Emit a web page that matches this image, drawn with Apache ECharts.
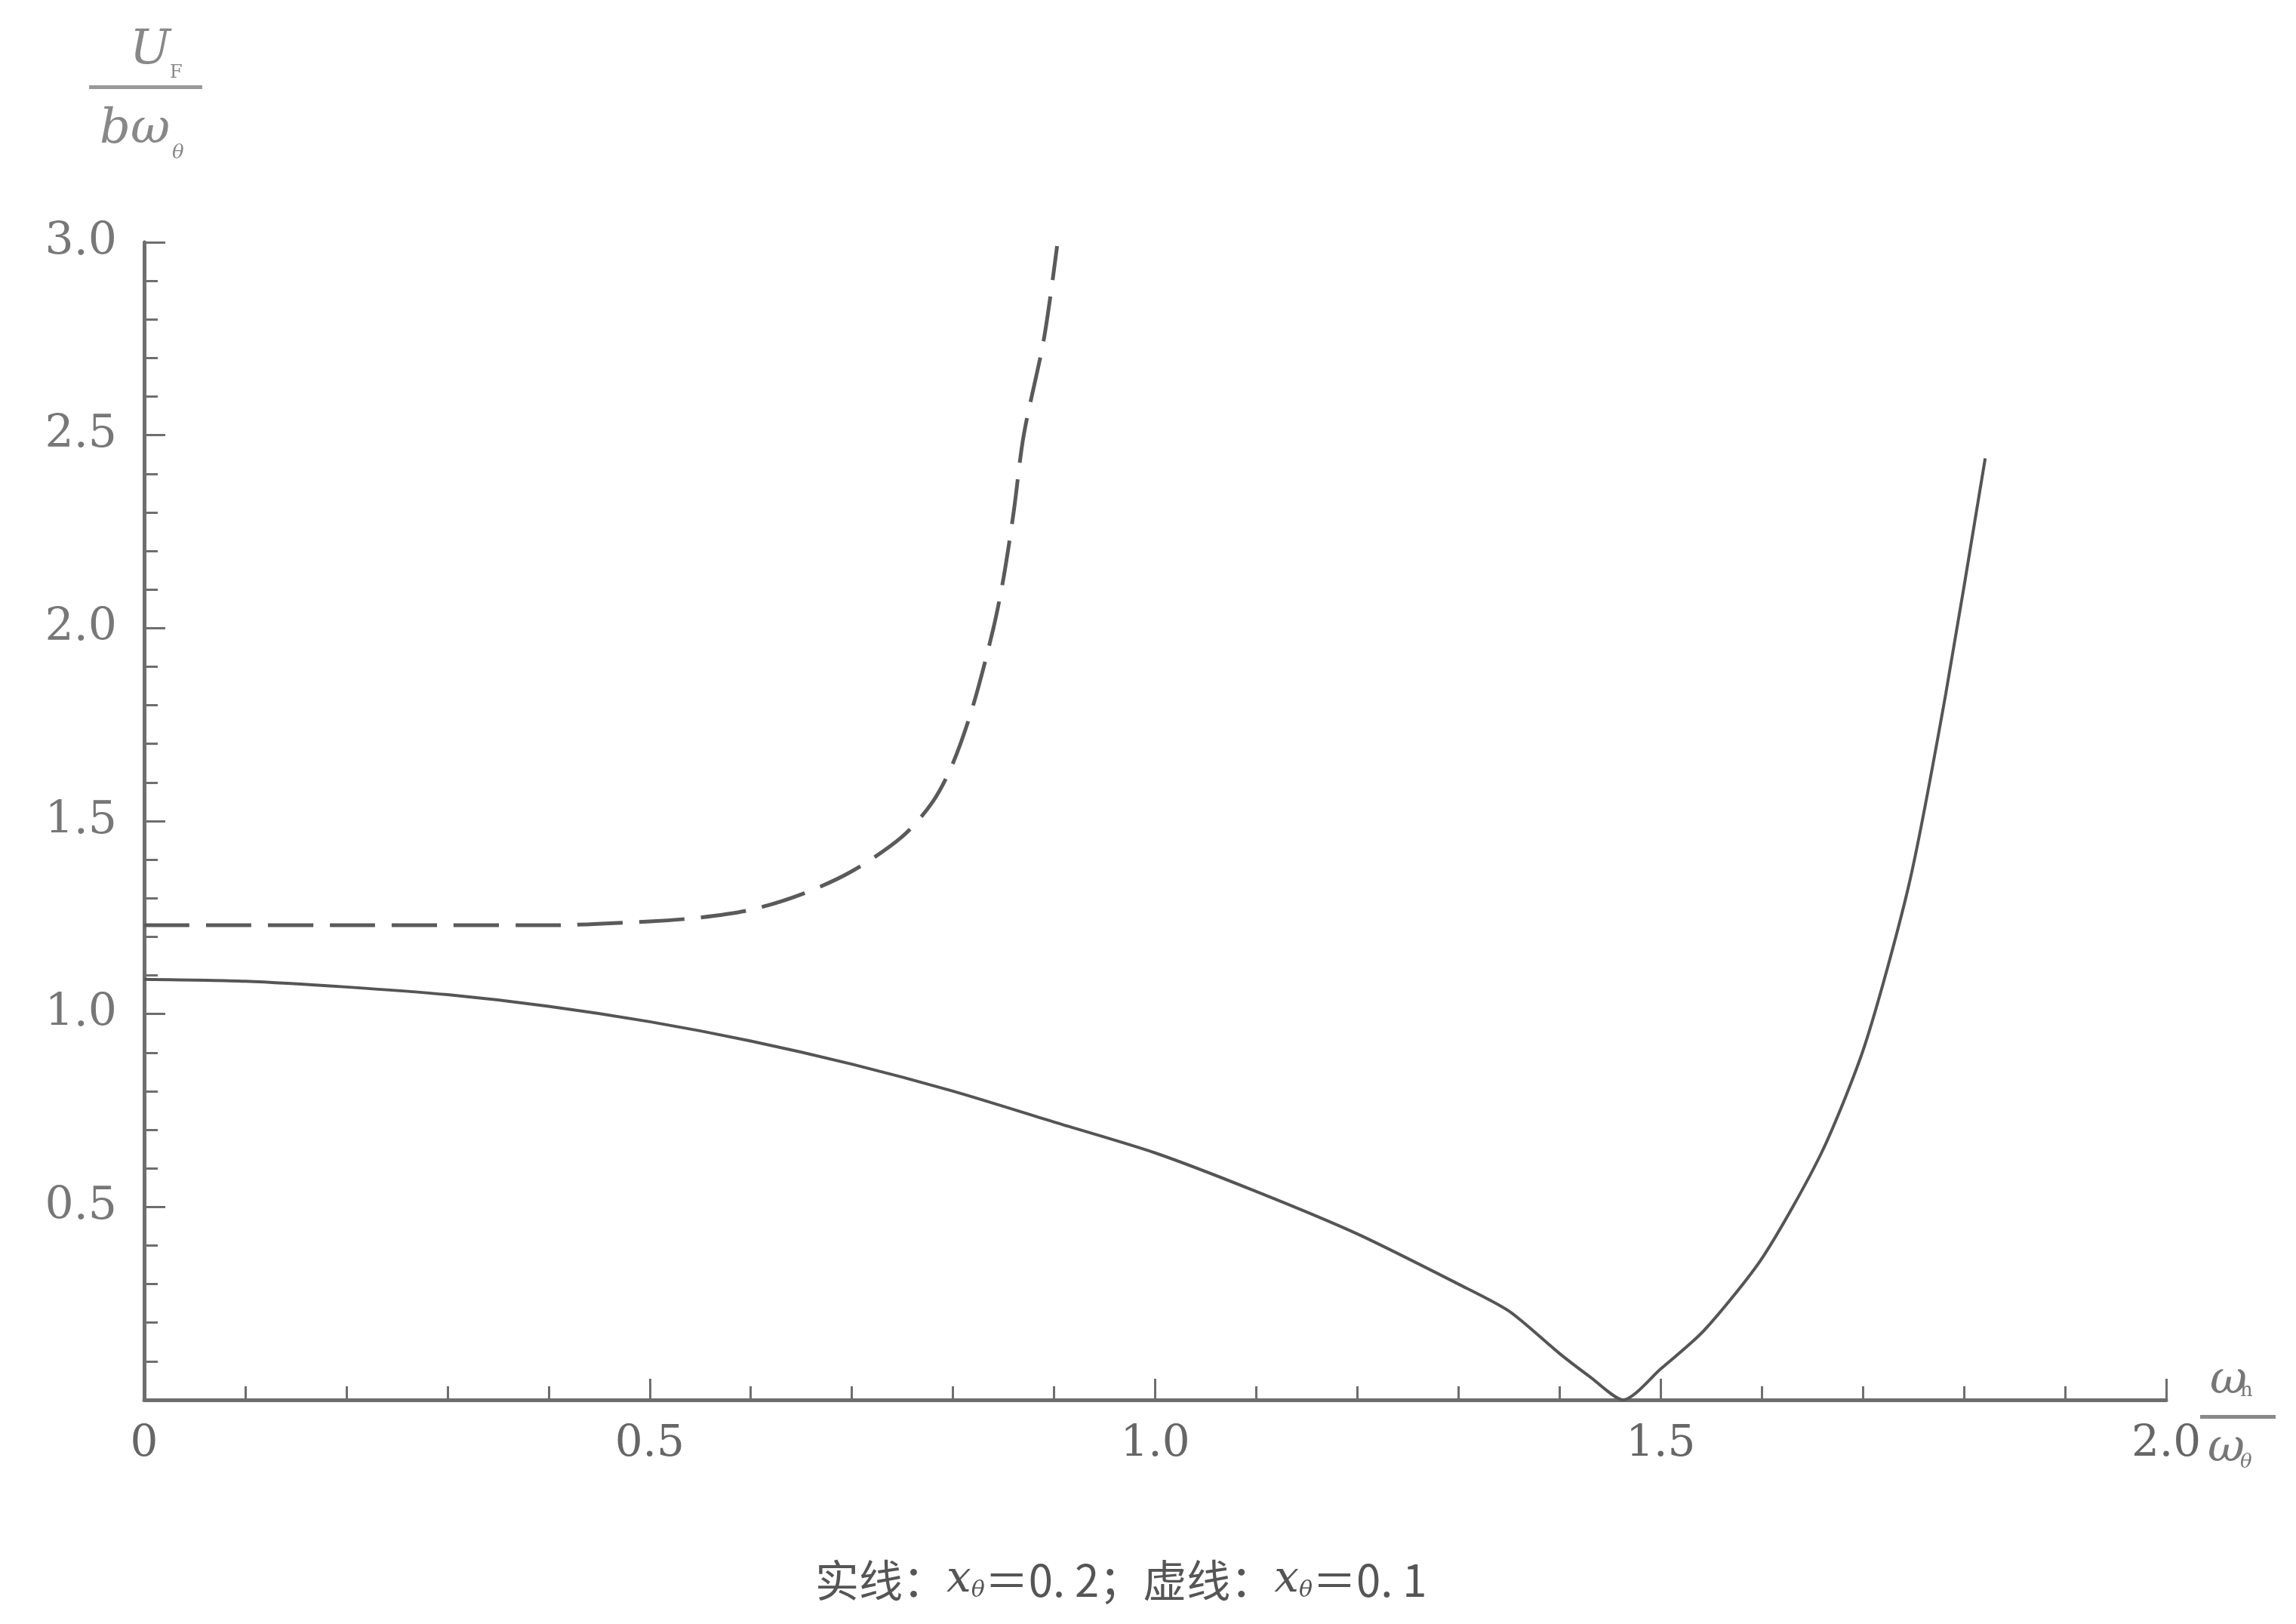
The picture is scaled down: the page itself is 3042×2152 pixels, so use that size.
<!DOCTYPE html><html><head><meta charset="utf-8">
<script src="https://cdn.jsdelivr.net/npm/echarts@6/dist/echarts.min.js"></script>
<style>html,body{margin:0;background:#fff}#c{width:3042px;height:2152px}</style></head><body><div id="c"></div>
<script>
const solidX=[0,0.1,0.2,0.3,0.4,0.5,0.6,0.7,0.8,0.9,1.0,1.1,1.2,1.3,1.35,1.4,1.43,1.463,1.5,1.543,1.601,1.659,1.702,1.746,1.782,1.821];
const solidY=[1.09,1.085,1.07,1.05,1.02,0.98,0.93,0.87,0.8,0.72,0.64,0.54,0.43,0.3,0.23,0.12,0.06,0,0.08,0.18,0.37,0.64,0.92,1.34,1.83,2.44];
const dashX=[0,0.1,0.2,0.3,0.4,0.5,0.55,0.6,0.65,0.7,0.75,0.78,0.8,0.82,0.84,0.85,0.86,0.87,0.89,0.903];
const dashY=[1.23,1.23,1.23,1.23,1.23,1.24,1.25,1.27,1.31,1.37,1.46,1.55,1.65,1.8,2.0,2.13,2.3,2.5,2.75,2.99];
const xTickLabels={0:'0',0.5:'0.5',1:'1.0',1.5:'1.5',2:'2.0'};
const col='#6e6e6e', font='"DejaVu Serif","Liberation Serif",serif';
const ch=echarts.init(document.getElementById('c'));
ch.setOption({animation:false,backgroundColor:'#fff',
grid:{left:191,right:172,top:321,bottom:297},
xAxis:{type:'value',min:0,max:2,interval:0.5,splitLine:{show:false},
 axisLine:{lineStyle:{color:col,width:5}},axisTick:{inside:true,length:28,lineStyle:{color:col,width:3}},
 minorTick:{show:true,splitNumber:5,length:18,lineStyle:{color:col,width:3}},
 axisLabel:{margin:30,color:'#666',fontFamily:font,fontSize:58,formatter:v=>xTickLabels[v]??''}},
yAxis:{type:'value',min:0,max:3,interval:0.5,splitLine:{show:false},
 axisLine:{lineStyle:{color:col,width:5}},axisTick:{inside:true,length:28,lineStyle:{color:col,width:3}},
 minorTick:{show:true,splitNumber:5,length:18,lineStyle:{color:col,width:3}},
 axisLabel:{margin:36,color:'#777',fontFamily:font,fontSize:60,formatter:v=>v===0?'':v.toFixed(1)}},
series:[
{type:'line',data:solidX.map((x,i)=>[x,solidY[i]]),smooth:0.25,symbol:'none',lineStyle:{color:'#555',width:4}},
{type:'line',data:dashX.map((x,i)=>[x,dashY[i]]),smooth:0.3,symbol:'none',lineStyle:{color:'#5a5a5a',width:5,type:[60,22]}}],
graphic:[
{type:'text',left:172,top:35,style:{text:'U',font:'italic 64px '+font,fill:'#888'}},
{type:'text',left:225,top:85,style:{text:'F',font:'24px '+font,fill:'#888'}},
{type:'rect',shape:{x:118,y:113,width:150,height:5},style:{fill:'#999'}},
{type:'text',left:132,top:140,style:{text:'bω',font:'italic 64px '+font,fill:'#888'}},
{type:'text',left:228,top:190,style:{text:'θ',font:'italic 26px '+font,fill:'#888'}},
{type:'text',left:2928,top:1800,style:{text:'ω',font:'italic 60px '+font,fill:'#777'}},
{type:'text',left:2968,top:1830,style:{text:'h',font:'26px '+font,fill:'#777'}},
{type:'rect',shape:{x:2915,y:1875,width:100,height:5},style:{fill:'#888'}},
{type:'text',left:2925,top:1890,style:{text:'ω',font:'italic 60px '+font,fill:'#777'}},
{type:'text',left:2968,top:1925,style:{text:'θ',font:'italic 26px '+font,fill:'#777'}},
{type:'text',left:1080,top:2065,style:{rich:{a:{font:'58px "Noto Sans CJK SC"',fill:'#555'},i:{font:'italic 58px '+font,fill:'#555'},s:{font:'italic 30px '+font,fill:'#555',verticalAlign:'bottom'}},text:'{a|实线：}{i|x}{s|θ}{a|＝0. 2；虚线：}{i|x}{s|θ}{a|＝0. 1}'}}
]});
</script></body></html>
